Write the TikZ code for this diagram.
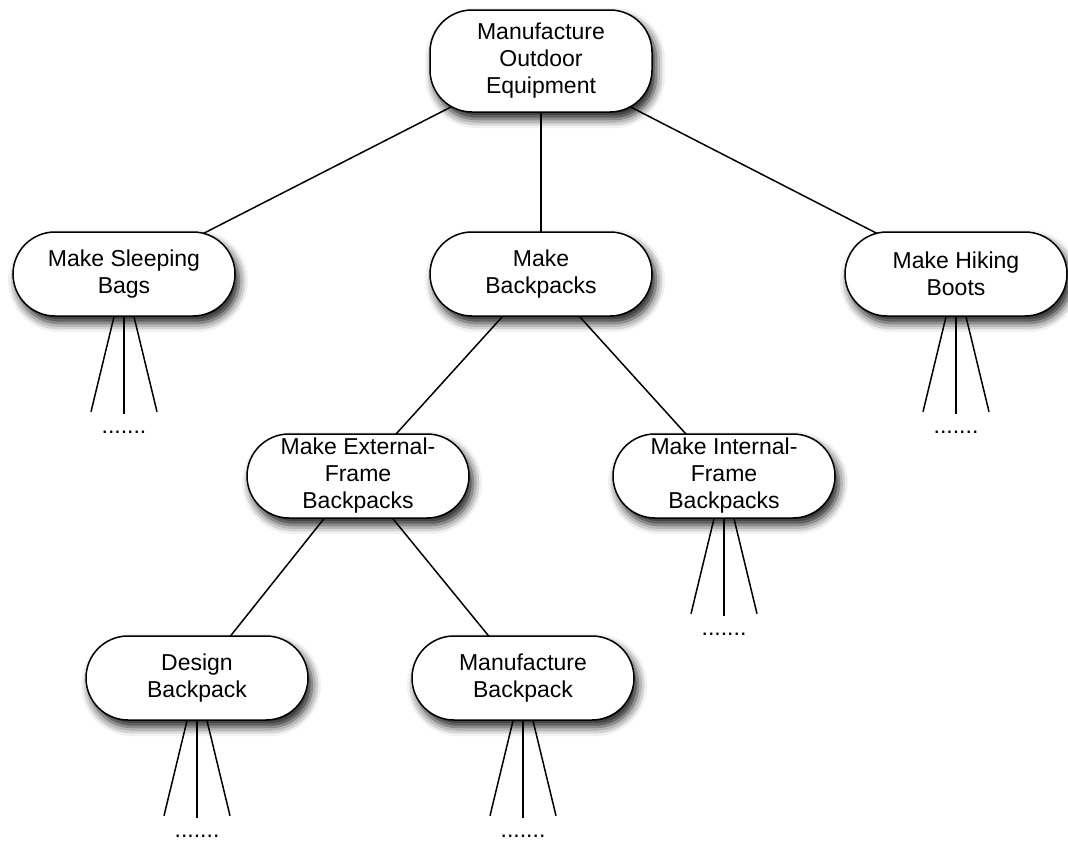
\documentclass[tikz,border=0pt]{standalone}
\usepackage{fontspec}
\setmainfont{Liberation Sans}
\usetikzlibrary{calc,shadows.blur,backgrounds}
\begin{document}
\begin{tikzpicture}[x=1pt,y=-1pt,
  task/.style={draw, line width=1.5pt, fill=white, rounded corners=42pt,
    minimum width=222pt, minimum height=84pt, align=center, inner sep=0pt,
    font=\fontsize{23}{27}\selectfont,
    blur shadow={shadow xshift=4pt, shadow yshift=-7pt,
      shadow blur radius=9pt, shadow opacity=90}},
  link/.style={line width=1.5pt},
  dotrow/.style={inner sep=0pt, font=\fontsize{23}{27}\selectfont}]
\useasboundingbox (0,0) rectangle (1068,841);

% work breakdown nodes
\node[task, minimum height=102pt] (top) at (541,61) {Manufacture\\Outdoor\\Equipment};
\node[task] (sb)  at (124,274) {Make Sleeping\\Bags};
\node[task] (bp)  at (541,274) {Make\\Backpacks};
\node[task] (hb)  at (956,274) {Make Hiking\\Boots};
\node[task] (ef)  at (358,476) {Make External-\\Frame\\Backpacks};
\node[task] (ifb) at (724,476) {Make Internal-\\Frame\\Backpacks};
\node[task] (db)  at (197,678) {Design\\Backpack};
\node[task] (mb)  at (523,678) {Manufacture\\Backpack};

% tree links, kept behind the boxes
\begin{pgfonlayer}{background}
  \draw[link] (top.center) -- (sb.center);
  \draw[link] (top.center) -- (bp.center);
  \draw[link] (top.center) -- (hb.center);
  \draw[link] (bp.center) -- (ef.center);
  \draw[link] (bp.center) -- (ifb.center);
  \draw[link] (ef.center) -- (db.center);
  \draw[link] (ef.center) -- (mb.center);
\end{pgfonlayer}

% open-ended subtrees: three stubs and a row of dots
\foreach \n in {sb,hb,ifb,db,mb} {
  \coordinate (\n-sl) at ($(\n.south)+(-10,0)$);
  \coordinate (\n-sr) at ($(\n.south)+(10,0)$);
  \coordinate (\n-el) at ($(\n.south)+(-33,95)$);
  \coordinate (\n-em) at ($(\n.south)+(0,97)$);
  \coordinate (\n-er) at ($(\n.south)+(33,95)$);
  \draw[link] (\n-sl) -- (\n-el);
  \draw[link] (\n.south) -- (\n-em);
  \draw[link] (\n-sr) -- (\n-er);
  \node[dotrow] (\n-dots) at ($(\n.south)+(0,116)$) {.......};
}
\end{tikzpicture}
\end{document}
